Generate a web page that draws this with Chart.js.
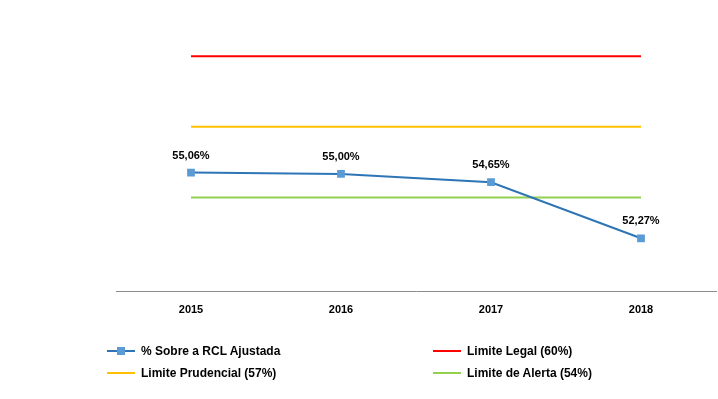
<!DOCTYPE html>
<html>
<head>
<meta charset="utf-8">
<script src="https://cdn.jsdelivr.net/npm/chart.js@4.4.1/dist/chart.umd.min.js"></script>
<style>
  html, body { margin: 0; padding: 0; background: #fff; }
  #wrap { position: relative; width: 718px; height: 399px; }
  .leg { position: absolute; font: bold 12px "Liberation Sans", Arial, sans-serif; color: #000; display: flex; align-items: center; white-space: nowrap; }
  .leg .sw { position: relative; width: 28px; height: 2px; margin-right: 6px; }
  .leg .mk { position: absolute; left: 10px; top: -3px; width: 8px; height: 8px; background: #5B9BD5; }
</style>
</head>
<body>
<div id="wrap">
  <canvas id="chart" width="718" height="399"></canvas>
</div>
<script>
const years = ["2015", "2016", "2017", "2018"];
const pctRcl = [55.06, 55.00, 54.65, 52.27];
const limiteLegal = [60, 60, 60, 60];
const limitePrudencial = [57, 57, 57, 57];
const limiteAlerta = [54, 54, 54, 54];
const seriesNames = ["% Sobre a RCL Ajustada", "Limite Legal (60%)", "Limite Prudencial (57%)", "Limite de Alerta (54%)"];

// data labels above the main series
const labelPlugin = {
  id: "pointLabels",
  afterDatasetsDraw(chart) {
    const ctx = chart.ctx;
    const meta = chart.getDatasetMeta(0);
    ctx.save();
    ctx.font = "bold 11px 'Liberation Sans', Arial, sans-serif";
    ctx.fillStyle = "#000";
    ctx.textAlign = "center";
    ctx.textBaseline = "middle";
    meta.data.forEach((pt, i) => {
      const txt = pctRcl[i].toFixed(2).replace(".", ",") + "%";
      ctx.fillText(txt, pt.x, pt.y - 17);
    });
    ctx.restore();
  }
};

const ctx = document.getElementById("chart").getContext("2d");
new Chart(ctx, {
  type: "line",
  data: {
    labels: years,
    datasets: [
      {
        label: seriesNames[0],
        data: pctRcl,
        borderColor: "#2E75B6",
        backgroundColor: "#5B9BD5",
        borderWidth: 2,
        pointStyle: "rect",
        pointRadius: 5.5,
        pointBorderWidth: 0,
        pointBackgroundColor: "#5B9BD5"
      },
      { label: seriesNames[1], data: limiteLegal, borderColor: "#FF0000", borderWidth: 2, pointRadius: 0 },
      { label: seriesNames[2], data: limitePrudencial, borderColor: "#FFC000", borderWidth: 2, pointRadius: 0 },
      { label: seriesNames[3], data: limiteAlerta, borderColor: "#92D050", borderWidth: 2, pointRadius: 0 }
    ]
  },
  options: {
    responsive: false,
    animation: false,
    layout: { autoPadding: false, padding: { left: 116, right: 2, top: 9, bottom: 70 } },
    plugins: { legend: { display: false }, tooltip: { enabled: false } },
    scales: {
      y: { display: false, min: 50, max: 62 },
      x: {
        offset: true,
        grid: { display: false, drawTicks: false },
        border: { display: true, color: "#8C8C8C", width: 1 },
        ticks: {
          color: "#000",
          padding: 12,
          font: { family: "'Liberation Sans', Arial, sans-serif", size: 11, weight: "bold" }
        }
      }
    }
  },
  plugins: [labelPlugin]
});

// legend (two columns)
const legColors = ["#2E75B6", "#FF0000", "#FFC000", "#92D050"];
const legPos = [[107, 351], [433, 351], [107, 373], [433, 373]];
const wrap = document.getElementById("wrap");
seriesNames.forEach((name, i) => {
  const d = document.createElement("div");
  d.className = "leg";
  d.style.left = legPos[i][0] + "px";
  d.style.top = (legPos[i][1] - 7) + "px";
  d.innerHTML = '<span class="sw" style="background:' + legColors[i] + '">' +
    (i === 0 ? '<span class="mk"></span>' : '') + '</span>' + name;
  wrap.appendChild(d);
});
</script>
</body>
</html>
